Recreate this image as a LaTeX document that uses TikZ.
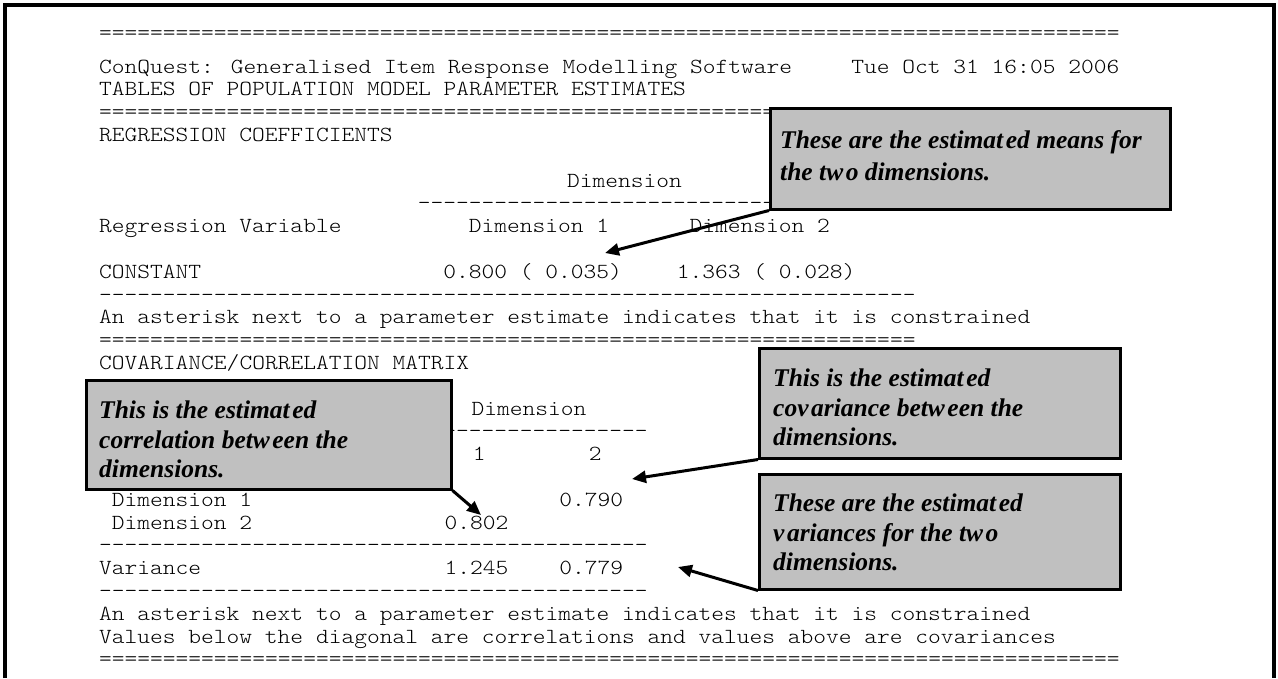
\documentclass[tikz,border=0pt]{standalone}
\usepackage{fontspec}
\setmainfont{Liberation Serif}
\newfontfamily\cmono{lmmonolt10-regular.otf}[FakeStretch=1.13]
\usetikzlibrary{arrows.meta}
\definecolor{boxgray}{HTML}{C0C0C0}
\newcommand{\gp}{\kern2.5pt}
\newcommand\myrep[2]{\ifnum#1>0 #2\expandafter\myrep\expandafter{\the\numexpr#1-1\relax}{#2}\fi}
\newcommand{\cx}[1]{99+12.75*#1}
\newcommand{\ly}[1]{73+22.8*#1}
\tikzset{
  mono/.style={anchor=base west, inner sep=0, font=\cmono\fontsize{21.5}{22.8}\selectfont},
  callbox/.style={draw=black, line width=2.5pt, fill=boxgray, anchor=north west, inner sep=0},
  calltext/.style={anchor=base west, inner sep=0, align=left, font=\bfseries\itshape\fontsize{25.5}{29.5}\selectfont},
  arr/.style={line width=3pt, -{Triangle[length=14pt,width=12pt]}},
  frame/.style={line width=4pt, line join=miter}
}
\begin{document}
\begin{tikzpicture}[x=1pt,y=-1pt]
\useasboundingbox (0,0) rectangle (1278,678);
\fill[white] (0,0) rectangle (1278,678);
\draw[frame] (5,678) -- (5,5) -- (1274,5) -- (1274,678);
% output text
\node[mono] (l0) at ({\cx{0}},39) {\myrep{80}{=}};
\node[mono] (l1a) at ({\cx{0}},{\ly{0}}) {ConQuest: Generalised Item Response Modelling Software};
\node[mono] (l1b) at ({\cx{59}},{\ly{0}}) {Tue Oct 31 16:05 2006};
\node[mono] (l2) at ({\cx{0}},{\ly{1}}) {TABLES OF POPULATION MODEL PARAMETER ESTIMATES};
\node[mono] (l3) at ({\cx{0}},{\ly{2}}) {\myrep{80}{=}};
\node[mono] (l4) at ({\cx{0}},{\ly{3}}) {REGRESSION COEFFICIENTS};
\node[mono] (l5) at ({\cx{36.7}},{\ly{5}}) {Dimension};
\node[mono] (l6) at ({\cx{25}},{\ly{6}}) {\myrep{32}{-}};
\node[mono] (l7a) at ({\cx{0}},{\ly{7}}) {Regression Variable};
\node[mono] (l7b) at ({\cx{29}},{\ly{7}}) {Dimension 1};
\node[mono] (l7c) at ({\cx{46.3}},{\ly{7}}) {Dimension 2};
\node[mono] (l9a) at ({\cx{0}},{\ly{9}}) {CONSTANT};
\node[mono] (l9b) at ({\cx{27}},{\ly{9}}) {0.800 ( 0.035)};
\node[mono] (l9c) at ({\cx{45.3}},{\ly{9}}) {1.363 ( 0.028)};
\node[mono] (l10) at ({\cx{0}},{\ly{10}}) {\myrep{64}{-}};
\node[mono] (l11) at ({\cx{0}},{\ly{11}}) {An asterisk next to a parameter estimate indicates that it is constrained};
\node[mono] (l12) at ({\cx{0}},{\ly{12}}) {\myrep{64}{=}};
\node[mono] (l13) at ({\cx{0}},{\ly{13}}) {COVARIANCE/CORRELATION MATRIX};
\node[mono] (l15) at ({\cx{29.2}},{\ly{15}}) {Dimension};
\node[mono] (l16) at ({\cx{26}},{\ly{16}}) {\myrep{17}{-}};
\node[mono] (l17a) at ({\cx{29.3}},{\ly{17}}) {1};
\node[mono] (l17b) at ({\cx{38.4}},{\ly{17}}) {2};
\node[mono] (l19a) at ({\cx{1}},{\ly{19}}) {Dimension 1};
\node[mono] (l19b) at ({\cx{36.1}},{\ly{19}}) {0.790};
\node[mono] (l20a) at ({\cx{1}},{\ly{20}}) {Dimension 2};
\node[mono] (l20b) at ({\cx{27.1}},{\ly{20}}) {0.802};
\node[mono] (l21) at ({\cx{0}},{\ly{21}}) {\myrep{43}{-}};
\node[mono] (l22a) at ({\cx{0}},{\ly{22}}) {Variance};
\node[mono] (l22b) at ({\cx{27.1}},{\ly{22}}) {1.245};
\node[mono] (l22c) at ({\cx{36.1}},{\ly{22}}) {0.779};
\node[mono] (l23) at ({\cx{0}},{\ly{23}}) {\myrep{43}{-}};
\node[mono] (l24) at ({\cx{0}},{\ly{24}}) {An asterisk next to a parameter estimate indicates that it is constrained};
\node[mono] (l25) at ({\cx{0}},{\ly{25}}) {Values below the diagonal are correlations and values above are covariances};
\node[mono] (l26) at ({\cx{0}},{\ly{26}}) {\myrep{80}{=}};
% callout boxes
\node[callbox, minimum width=400pt, minimum height=101pt] (mb) at (769,107) {};
\node[callbox, minimum width=361pt, minimum height=110pt] (cb) at (758,347) {};
\node[callbox, minimum width=361pt, minimum height=115pt] (vb) at (758,473) {};
\node[callbox, minimum width=365pt, minimum height=109pt] (rb) at (85,379) {};
\node[calltext, font=\bfseries\itshape\fontsize{25.5}{32}\selectfont] (mt) at (780,180.5) {These are the estimat\gp ed means for\\the tw\gp o dimensions.};
\node[calltext] (ct) at (773,445.5) {This is the estimat\gp ed\\cov\gp ariance betw\gp een the\\dimensions.};
\node[calltext] (vt) at (773,570.5) {These are the estimat\gp ed\\v\gp ariances for the tw\gp o\\dimensions.};
\node[calltext] (rt) at (99,477.5) {This is the estimat\gp ed\\correlation betw\gp een the\\dimensions.};
% arrows
\coordinate (ta) at (605,253);
\coordinate (tr) at (481,515);
\coordinate (tc) at (632,479);
\coordinate (tv) at (678,567);
\draw[arr] (mb.south west) -- (ta);
\draw[arr] (rb.south east) -- (tr);
\draw[arr] (cb.south west) -- (tc);
\draw[arr] (vb.south west) -- (tv);
\end{tikzpicture}
\end{document}
